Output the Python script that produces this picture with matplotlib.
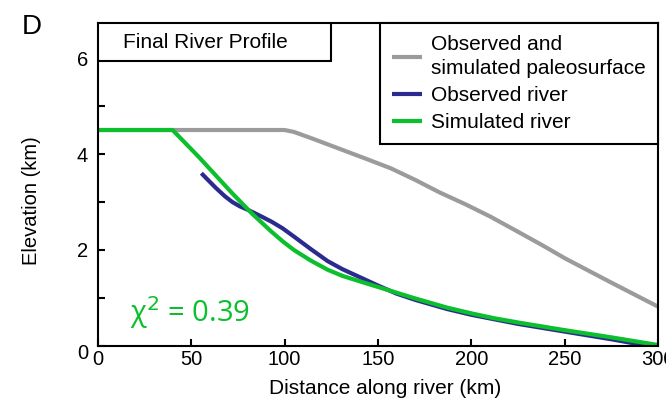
import matplotlib
matplotlib.use("Agg")
import matplotlib.pyplot as plt
from matplotlib.ticker import FixedLocator, MultipleLocator, FuncFormatter
from matplotlib.patches import Rectangle
from matplotlib.transforms import ScaledTranslation

plt.rcParams['font.family'] = ['Liberation Sans', 'DejaVu Sans']

# Paleosurface (observed and simulated)
paleo_x = [0, 100, 105, 115, 130, 145, 157, 170, 183, 197, 210, 225, 238, 250, 275, 300]
paleo_y = [4.5, 4.5, 4.46, 4.32, 4.1, 3.88, 3.7, 3.46, 3.2, 2.95, 2.7, 2.38, 2.1, 1.83, 1.32, 0.82]

# Observed river profile
obs_x = [55.4, 63, 68, 72, 76, 80.7, 87, 93, 99, 105, 114, 123, 131, 140.5, 150, 160, 170, 187,
         200, 225, 250, 275, 292, 300]
obs_y = [3.6, 3.3, 3.12, 3.0, 2.91, 2.83, 2.71, 2.59, 2.45, 2.28, 2.02, 1.77, 1.6, 1.43, 1.26,
         1.09, 0.96, 0.77, 0.65, 0.46, 0.3, 0.14, 0.02, 0.0]

# Simulated river profile
sim_x = [0, 40, 54, 72, 82.5, 93, 99, 105, 114, 123, 131, 140, 150, 160, 170, 187, 200, 212,
         225, 250, 275, 300]
sim_y = [4.5, 4.5, 3.94, 3.18, 2.76, 2.38, 2.18, 2.0, 1.78, 1.59, 1.46, 1.35, 1.23, 1.11, 0.99,
         0.8, 0.68, 0.58, 0.49, 0.33, 0.18, 0.02]

chi2 = 0.39

gray = '#9b9b9b'
navy = '#2b2b8f'
green = '#0cbf2c'

fig = plt.figure(figsize=(6.66, 4.04), dpi=100)
ax = fig.add_axes([0.147, 0.1436, 0.841, 0.7995])

ax.plot(paleo_x, paleo_y, color=gray, lw=3, solid_capstyle='butt', solid_joinstyle='round',
        label='Observed and\nsimulated paleosurface')
ax.plot(obs_x, obs_y, color=navy, lw=3, solid_capstyle='butt', solid_joinstyle='round',
        label='Observed river')
ax.plot(sim_x, sim_y, color=green, lw=3, solid_capstyle='butt', solid_joinstyle='round',
        label='Simulated river')

ax.set_xlim(0, 300)
ax.set_ylim(0, 6.73)
ax.xaxis.set_major_locator(MultipleLocator(50))
ax.yaxis.set_major_locator(FixedLocator([0, 2, 4, 6]))
ax.yaxis.set_minor_locator(FixedLocator([1, 3, 5]))
ax.yaxis.set_major_formatter(FuncFormatter(lambda v, p: f'{v:g}'))
ax.tick_params(which='both', direction='in', length=5, width=1.5, labelsize=14.5)
ax.tick_params(axis='x', pad=3)
ax.tick_params(axis='y', which='both', right=False, pad=7)
for s in ax.spines.values():
    s.set_linewidth(1.5)

ax.set_xlabel('Distance along river (km)', fontsize=15, labelpad=7)
ax.xaxis.label.set_x(0.513)
ax.set_ylabel('Elevation (km)', fontsize=14.5)
ax.yaxis.set_label_coords(-0.102, 0.449)

leg = ax.legend(loc='upper right', borderaxespad=0, fontsize=15, fancybox=False,
                edgecolor='black', framealpha=1, handlelength=1.45, handletextpad=0.4,
                labelspacing=0.38, borderpad=0.6)
leg.get_frame().set_linewidth(1.5)
for t in leg.get_texts():
    t.set_linespacing(1.3)

ax.add_patch(Rectangle((0, 0.882), 0.416, 0.118, transform=ax.transAxes,
                       facecolor='white', edgecolor='black', lw=1.5, zorder=5))
ax.text(0.045, 0.941, 'Final River Profile', transform=ax.transAxes, fontsize=15,
        va='center', ha='left', zorder=6)

ax.text(17.3, 0.5, f'χ$^2$ = {chi2}', color=green, fontsize=21,
        family=['Open Sans', 'DejaVu Sans'], va='baseline', ha='left')

fig.text(0.033, 0.915, 'D', fontsize=20, ha='left', va='baseline')

# nudge the y-axis zero label down, clear of the x-axis zero
fig.canvas.draw()
zero_lab = ax.yaxis.get_major_ticks()[0].label1
zero_lab.set_transform(zero_lab.get_transform() + ScaledTranslation(0, -0.06, fig.dpi_scale_trans))

fig.savefig('out.png', dpi=100)
